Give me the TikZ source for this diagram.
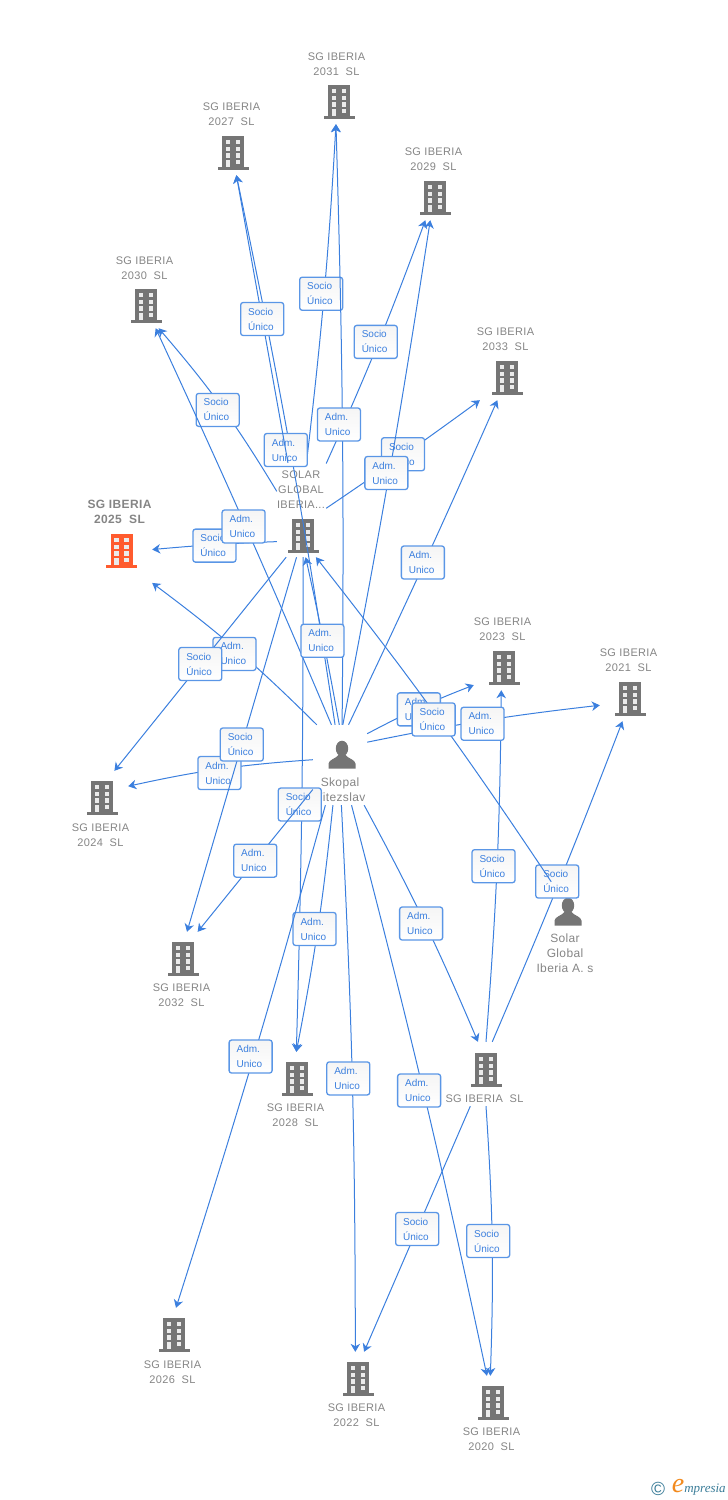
\documentclass[tikz,border=0pt]{standalone}
\usepackage{fontspec}
\setmainfont{Liberation Sans}
\newfontfamily\namefont[LetterSpace=3]{Liberation Sans}
\newfontfamily\logofont{Liberation Serif}
\usetikzlibrary{arrows.meta}
\definecolor{linkblue}{HTML}{3B7FDE}
\definecolor{boxblue}{HTML}{5A96E6}
\definecolor{icongrey}{HTML}{757575}
\definecolor{namegrey}{HTML}{858585}
\definecolor{hotred}{HTML}{FF5B2E}
\definecolor{logoteal}{HTML}{3A7C98}
\definecolor{logoorange}{HTML}{F28A1E}
\tikzset{
	link/.style={draw=linkblue, line width=1pt, -{Stealth[length=8pt, width=9.5pt, inset=2.5pt]}},
	tag/.style={draw=boxblue, line width=1.3pt, rounded corners=2.5pt, top color=black!4, bottom color=white, text=linkblue, minimum width=43pt, minimum height=33pt, inner xsep=7.5pt, inner ysep=0pt, text width=28pt, align=left, font=\fontsize{10}{15}\selectfont},
	uphold/.style={minimum width=60pt, minimum height=77pt, inner sep=0pt},
	downhold/.style={minimum width=52pt, minimum height=76pt, inner sep=0pt},
	cname/.style={text=namegrey, align=center, inner sep=0pt, xshift=.5pt, yshift=-1pt, font=\fontsize{11}{15}\namefont},
	pname/.style={text=namegrey, align=center, inner sep=0pt, font=\fontsize{12}{15}\namefont},
	building/.pic={
		\fill[pic actions] (-11,-16) rectangle (11,15);
		\fill[pic actions] (-15.5,14.7) rectangle (15.5,18);
		\foreach \col in {-7.3,2.7}{
			\foreach \row in {-12,-5.3,1.3,8}{
				\fill[white!92!black] (\col,\row) rectangle +(4.3,4.3);
			}
		}
		\fill[white!92!black] (-7.3,8) rectangle (-3,14.7);
	},
	person/.pic={
		\fill[pic actions] (0,-6.5) ellipse (6.2 and 7.8);
		\fill[pic actions] (-13.5,13.5) -- (-13.5,8.5) .. controls (-13,4.5) and (-6,3.5) .. (-3.5,0) -- (3.5,0) .. controls (6,3.5) and (13,4.5) .. (13.5,8.5) -- (13.5,13.5) -- cycle;
	},
}
\newcommand{\adm}{Adm.\\Unico}
\newcommand{\socio}{Socio\\Único}

\begin{document}
\begin{tikzpicture}[x=1pt, y=-1pt]
	\useasboundingbox (0,0) rectangle (728,1500);

	% holders, each one round an icon and its name
	\node[uphold] (sg2031) at (338,85.5) {};
	\node[uphold] (sg2027) at (233,136.5) {};
	\node[uphold] (sg2029) at (435,181.5) {};
	\node[uphold] (sg2030) at (146,289.5) {};
	\node[uphold] (sg2033) at (507,361.5) {};
	\node[uphold] (sg2023) at (504,651.5) {};
	\node[uphold] (sg2021) at (630,682.5) {};
	\node[uphold, minimum width=62pt, minimum height=100pt] (sg2025) at (121,540) {};
	\node[downhold] (sg2024) at (102,809) {};
	\node[downhold] (sg2032) at (183,970) {};
	\node[downhold] (sg2028) at (297,1090) {};
	\node[downhold] (sg2026) at (174,1346) {};
	\node[downhold] (sg2022) at (358,1390) {};
	\node[downhold] (sg2020) at (493,1414) {};
	\node[downhold, minimum width=80pt, minimum height=64pt] (sgmain) at (486,1074) {};
	\node[uphold, minimum width=49pt, minimum height=94pt] (solar) at (301.5,510) {};
	\node[downhold, minimum width=54pt, minimum height=80pt] (skopal) at (340,765) {};
	\node[downhold, minimum width=62pt, minimum height=96pt] (iberia) at (566,930) {};

	% icons
	\pic[fill=icongrey] at (339,101) {building};
	\pic[fill=icongrey] at (233,152) {building};
	\pic[fill=icongrey] at (435,197) {building};
	\pic[fill=icongrey] at (146,305) {building};
	\pic[fill=icongrey] at (507,377) {building};
	\pic[fill=icongrey] at (504,667) {building};
	\pic[fill=icongrey] at (630,698) {building};
	\pic[fill=hotred] at (121.5,550) {building};
	\pic[fill=icongrey] at (102,797) {building};
	\pic[fill=icongrey] at (183,958) {building};
	\pic[fill=icongrey] at (297,1078) {building};
	\pic[fill=icongrey] at (174,1334) {building};
	\pic[fill=icongrey] at (358,1378) {building};
	\pic[fill=icongrey] at (493,1402) {building};
	\pic[fill=icongrey] at (486,1069) {building};
	\pic[fill=icongrey] at (303,535) {building};
	\pic[fill=icongrey] at (342,755) {person};
	\pic[fill=icongrey] at (568,912) {person};

	% names
	\node[cname] (t2031) at (336,63.5) {SG IBERIA\\2031~~SL};
	\node[cname] (t2027) at (231,113.5) {SG IBERIA\\2027~~SL};
	\node[cname] (t2029) at (433,158.5) {SG IBERIA\\2029~~SL};
	\node[cname] (t2030) at (144,267.5) {SG IBERIA\\2030~~SL};
	\node[cname] (t2033) at (505,338.5) {SG IBERIA\\2033~~SL};
	\node[cname] (t2023) at (502,628.5) {SG IBERIA\\2023~~SL};
	\node[cname] (t2021) at (628,659.5) {SG IBERIA\\2021~~SL};
	\node[cname, font=\fontsize{12}{15}\namefont\bfseries] (t2025) at (119,510.5) {SG IBERIA\\2025~~SL};
	\node[cname] (t2024) at (100,834.5) {SG IBERIA\\2024~~SL};
	\node[cname] (t2032) at (181,994.5) {SG IBERIA\\2032~~SL};
	\node[cname] (t2028) at (295,1114.5) {SG IBERIA\\2028~~SL};
	\node[cname] (t2026) at (172,1371.5) {SG IBERIA\\2026~~SL};
	\node[cname] (t2022) at (356,1414.5) {SG IBERIA\\2022~~SL};
	\node[cname] (t2020) at (491,1438.5) {SG IBERIA\\2020~~SL};
	\node[cname] (tmain) at (484,1097.5) {SG IBERIA~~SL};
	\node[cname] (tsolar) at (300.5,489) {SOLAR\\GLOBAL\\IBERIA...};
	\node[pname] (tskopal) at (340,789.5) {Skopal\\Vitezslav};
	\node[pname] (tiberia) at (565,953.5) {Solar\\Global\\Iberia A. s};

	% Socio first, most of them lie under the Adm. links
	\draw[link] (solar.-88.2) to[bend left=.8] node[tag, xshift=-2pt] (s2028) {\socio} (sg2028.91.5);
	\draw[link] (solar.-128.6) to[bend right=1.5] node[tag, yshift=-1pt] (s2025) {\socio} (sg2025.-17.9);
	\draw[link] (solar.4.7) to[bend right=1] node[tag, xshift=-.6pt, yshift=.8pt] (s2033) {\socio} (sg2033.-125);
	\draw[link] (solar.84.5) to[bend right=1.7] node[tag, xshift=-3pt] (s2031) {\socio} (sg2031.-93);
	\draw[link] (solar.143.7) to[bend right=4.8] node[tag, xshift=-4pt, yshift=-3pt] (s2030) {\socio} (sg2030.-72.7);
	\draw[link] (solar.62) to[bend right=2] node[tag, xshift=-2.5pt, yshift=1pt] (s2029) {\socio} (sg2029.-104.6);
	\draw[link] (sgmain.79.4) to[bend right=1.1] node[tag, xshift=-1.9pt, yshift=.7pt] (s2021) {\socio} (sg2021.-101.7);
	\draw[link] (sgmain.90) to[bend right=1.9] node[tag, xshift=-3.5pt] (s2023) {\socio} (sg2023.-94.5);
	\draw[link] (sgmain.-116.6) -- node[tag] (s2022) {\socio} (sg2022.81);
	\draw[link] (sgmain.-90) to[bend left=2.9] node[tag, xshift=-4pt] (s2020) {\socio} (sg2020.94.5);

	% Adm.
	\draw[link] (skopal.87.9) to[bend right=1.1] node[tag, xshift=-3.5pt] (a2031) {\adm} (sg2031.-93);
	\draw[link] (skopal.97.1) to[bend right=1.6] node[tag, xshift=-4.4pt, yshift=-.8pt] (a2027) {\adm} (sg2027.-85.5);
	\draw[link] (skopal.86.7) to[bend right=1.1] node[tag, xshift=-3pt] (a2029) {\adm} (sg2029.-97.4);
	\draw[link] (skopal.78.3) to[bend right=.8] node[tag, xshift=-1.4pt, yshift=.6pt] (a2033) {\adm} (sg2033.-104.6);
	\draw[link] (skopal.102.7) to[bend right=.9] node[tag, xshift=-1.8pt, yshift=-.8pt] (a2030) {\adm} (sg2030.-76.8);
	\draw[link] (skopal.91) to[bend right=1.1] node[tag, xshift=-1pt] (asolar) {\adm} (solar.-85.7);
	\draw[link] (skopal.120) to[bend right=4] node[tag, xshift=-2.9pt, yshift=-3.4pt] (a2025) {\adm} (sg2025.-54.2);
	\draw[link] (skopal.169.5) to[bend right=4.2] node[tag, xshift=-.5pt, yshift=-4pt] (a2024) {\adm} (sg2024.41.5);
	\draw[link] (skopal.-138.4) -- node[tag] (a2032) {\adm} (sg2032.69.8);
	\draw[link] (skopal.-100.6) to[bend left=2.5] node[tag, xshift=-3.2pt] (a2028) {\adm} (sg2028.91.5);
	\draw[link] (skopal.-110.6) to[bend left=1.1] node[tag, xshift=-2.9pt, yshift=.8pt] (a2026) {\adm} (sg2026.87);
	\draw[link] (skopal.-88.6) to[bend left=1.4] node[tag, xshift=-4pt] (a2022) {\adm} (sg2022.94.5);
	\draw[link] (skopal.-74) to[bend left=1.3] node[tag, xshift=-3.9pt, yshift=-.9pt] (a2020) {\adm} (sg2020.99);
	\draw[link] (skopal.-59.6) to[bend left=2.7] node[tag, xshift=-3.2pt, yshift=-1.6pt] (amain) {\adm} (sgmain.104);
	\draw[link] (skopal.49.8) to[bend left=3.3] node[tag, xshift=-.8pt, yshift=-1.8pt] (a2023) {\adm} (sg2023.-132.7);
	\draw[link] (skopal.40.4) to[bend left=2.5] node[tag, xshift=-.5pt, yshift=-3pt] (a2021) {\adm} (sg2021.-143.1);

	% Socio lying over the Adm. boxes
	\draw[link] (solar.106) -- node[tag] (s2027) {\socio} (sg2027.-85.5);
	\draw[link] (solar.-108.2) -- node[tag] (s2024) {\socio} (sg2024.72.5);
	\draw[link] (solar.-96.7) -- node[tag] (s2032) {\socio} (sg2032.84);
	\draw[link] (iberia.107.4) to[bend right=2.2] node[tag, xshift=-3.6pt, yshift=-2.6pt] (ssolar) {\socio} (solar.-73.4);

	% logo
	\node[text=logoteal, inner sep=0pt, font=\fontsize{19}{19}\selectfont] (copy) at (658,1489) {©};
	\node[text=logoorange, inner sep=0pt, font=\fontsize{28}{28}\logofont\itshape] (logoe) at (678,1486) {e};
	\node[text=logoteal, inner sep=0pt, font=\fontsize{13}{13}\logofont\itshape] (logotext) at (705,1490) {mpresia};
\end{tikzpicture}
\end{document}
